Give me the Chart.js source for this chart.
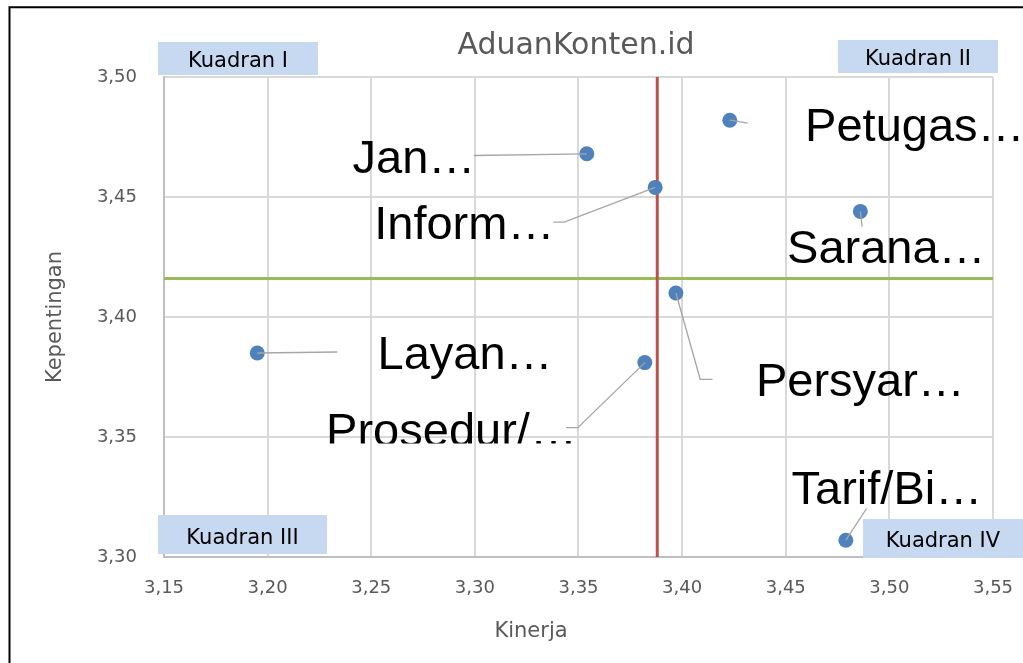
<!DOCTYPE html>
<html>
<head>
<meta charset="utf-8">
<script src="https://cdn.jsdelivr.net/npm/chart.js@4/dist/chart.umd.min.js"></script>
<style>
html,body{margin:0;padding:0;background:#fff;overflow:hidden}
#wrap{position:relative;width:1023px;height:663px}
</style>
</head>
<body>
<div id="wrap"><canvas id="c" width="1023" height="663"></canvas></div>
<script>
// ---- data ----
const categories = ['Layan…', 'Jan…', 'Inform…', 'Petugas…', 'Sarana…', 'Persyar…', 'Prosedur/…', 'Tarif/Bi…'];
const kinerja     = [3.195, 3.354, 3.387, 3.423, 3.486, 3.397, 3.382, 3.479];
const kepentingan = [3.385, 3.468, 3.454, 3.482, 3.444, 3.410, 3.381, 3.307];
const meanKinerja = 3.388;
const meanKepentingan = 3.416;
const xRange = [3.15, 3.55];
const yRange = [3.30, 3.50];
const tickStep = 0.05;
const quadrantNames = ['Kuadran I', 'Kuadran II', 'Kuadran III', 'Kuadran IV'];
const chartTitle = 'AduanKonten.id';
const xTitle = 'Kinerja';
const yTitle = 'Kepentingan';

// ---- layout (positions / styles only) ----
const labelPlacement = [
  {dx: 120.3, dy: 16.3,  leader: [[80, -1]]},
  {dx: -234.3, dy: 18.7, leader: [[-113, 1.7]]},
  {dx: -281, dy: 52,     leader: [[-91, 34.7], [-102, 34.7]]},
  {dx: 75.3, dy: 21,     leader: [[18, 3]]},
  {dx: -73.3, dy: 51.7,  leader: [[1.7, 15.4]]},
  {dx: 80, dy: 103,      leader: [[24.3, 86.3], [36.6, 86.3]]},
  {dx: -318.7, dy: 83, leader: [[-67, 65], [-78.7, 65]], clipBottom: 443.5},
  {dx: -54.3, dy: -36,   leader: [[20.7, -31.7]]}
];
const quadrantBoxes = [
  {x: 158, y: 42, w: 160, h: 33, base: 66.5},
  {x: 838, y: 40, w: 160, h: 33, base: 64.7},
  {x: 158, y: 515, w: 169, h: 39, base: 543.5},
  {x: 863, y: 519, w: 160, h: 39, base: 547}
];
const xTitlePos = {x: 531, y: 637.3};

const fmt = v => Number(v).toFixed(2).replace('.', ',');

const overlay = {
  id: 'overlay',
  beforeDraw(chart) {
    const ctx = chart.ctx;
    ctx.save();
    ctx.fillStyle = '#fff';
    ctx.fillRect(0, 0, chart.width, chart.height);
    ctx.restore();
  },
  afterDatasetsDraw(chart) {
    const ctx = chart.ctx, xs = chart.scales.x, ys = chart.scales.y;
    ctx.save();
    ctx.strokeStyle = '#A6A6A6';
    ctx.lineWidth = 1.3;
    categories.forEach((c, i) => {
      const px = xs.getPixelForValue(kinerja[i]);
      const py = ys.getPixelForValue(kepentingan[i]);
      ctx.beginPath();
      ctx.moveTo(px, py);
      labelPlacement[i].leader.forEach(([dx, dy]) => ctx.lineTo(px + dx, py + dy));
      ctx.stroke();
    });
    ctx.font = '47px "Liberation Sans", Arial, sans-serif';
    ctx.fillStyle = '#000';
    ctx.textAlign = 'left';
    ctx.textBaseline = 'alphabetic';
    categories.forEach((c, i) => {
      const px = xs.getPixelForValue(kinerja[i]);
      const py = ys.getPixelForValue(kepentingan[i]);
      const p = labelPlacement[i];
      ctx.save();
      if (p.clipBottom) {
        ctx.beginPath();
        ctx.rect(0, 0, chart.width, p.clipBottom);
        ctx.clip();
      }
      ctx.fillText(c, px + p.dx, py + p.dy);
      ctx.restore();
    });
    ctx.restore();
  },
  afterDraw(chart) {
    const ctx = chart.ctx, a = chart.chartArea;
    ctx.save();
    // title
    ctx.font = '30px "DejaVu Sans", sans-serif';
    ctx.fillStyle = '#595959';
    ctx.textAlign = 'center';
    ctx.textBaseline = 'alphabetic';
    ctx.fillText(chartTitle, (a.left + a.right) / 2 - 2.5, 54.3);
    // x axis title
    ctx.font = '21px "DejaVu Sans", sans-serif';
    ctx.fillText(xTitle, xTitlePos.x, xTitlePos.y);
    // quadrant boxes
    quadrantBoxes.forEach((b, i) => {
      ctx.fillStyle = '#C6D9F1';
      ctx.fillRect(b.x, b.y, b.w, b.h);
      ctx.fillStyle = '#000';
      ctx.fillText(quadrantNames[i], b.x + b.w / 2, b.base);
    });
    // outer frame
    ctx.strokeStyle = '#000';
    ctx.lineWidth = 2;
    ctx.beginPath();
    ctx.moveTo(9.5, chart.height + 2);
    ctx.lineTo(9.5, 7.3);
    ctx.lineTo(chart.width + 2, 7.3);
    ctx.stroke();
    ctx.restore();
  }
};

new Chart(document.getElementById('c'), {
  type: 'scatter',
  data: {
    datasets: [
      {
        label: 'Atribut',
        data: categories.map((c, i) => ({x: kinerja[i], y: kepentingan[i]})),
        backgroundColor: '#4F81BD',
        borderWidth: 0,
        pointRadius: 7.5,
        pointHoverRadius: 7.5
      },
      {
        label: 'Rata-rata Kinerja',
        data: [{x: meanKinerja, y: yRange[0]}, {x: meanKinerja, y: yRange[1]}],
        showLine: true,
        borderColor: '#C0504D',
        borderWidth: 3,
        pointRadius: 0
      },
      {
        label: 'Rata-rata Kepentingan',
        data: [{x: xRange[0], y: meanKepentingan}, {x: xRange[1], y: meanKepentingan}],
        showLine: true,
        borderColor: '#9BBB59',
        borderWidth: 3,
        pointRadius: 0
      }
    ]
  },
  options: {
    responsive: false,
    animation: false,
    devicePixelRatio: 1,
    layout: {padding: {top: 77, right: 30, left: 0, bottom: 0}},
    plugins: {legend: {display: false}, tooltip: {enabled: false}, title: {display: false}},
    scales: {
      x: {
        type: 'linear',
        min: xRange[0], max: xRange[1],
        ticks: {stepSize: tickStep, padding: 21, color: '#595959',
                font: {family: 'DejaVu Sans', size: 18}, callback: v => fmt(v)},
        grid: {color: '#D9D9D9', lineWidth: 2, drawTicks: false},
        border: {color: '#BFBFBF', width: 2},
        title: {display: false, text: xTitle},
        afterFit(s) { s.height = 106; s.paddingLeft = 0; s.paddingRight = 0; }
      },
      y: {
        type: 'linear',
        min: yRange[0], max: yRange[1],
        ticks: {stepSize: tickStep, padding: 27, color: '#595959',
                font: {family: 'DejaVu Sans', size: 18}, callback: v => fmt(v)},
        grid: {color: '#D9D9D9', lineWidth: 2, drawTicks: false},
        border: {color: '#BFBFBF', width: 2},
        title: {display: true, text: yTitle, color: '#595959',
                font: {family: 'DejaVu Sans', size: 21}, padding: {top: 43, bottom: 0}},
        afterFit(s) { s.width = 164; s.paddingTop = 0; s.paddingBottom = 0; }
      }
    }
  },
  plugins: [overlay]
});
</script>
</body>
</html>
